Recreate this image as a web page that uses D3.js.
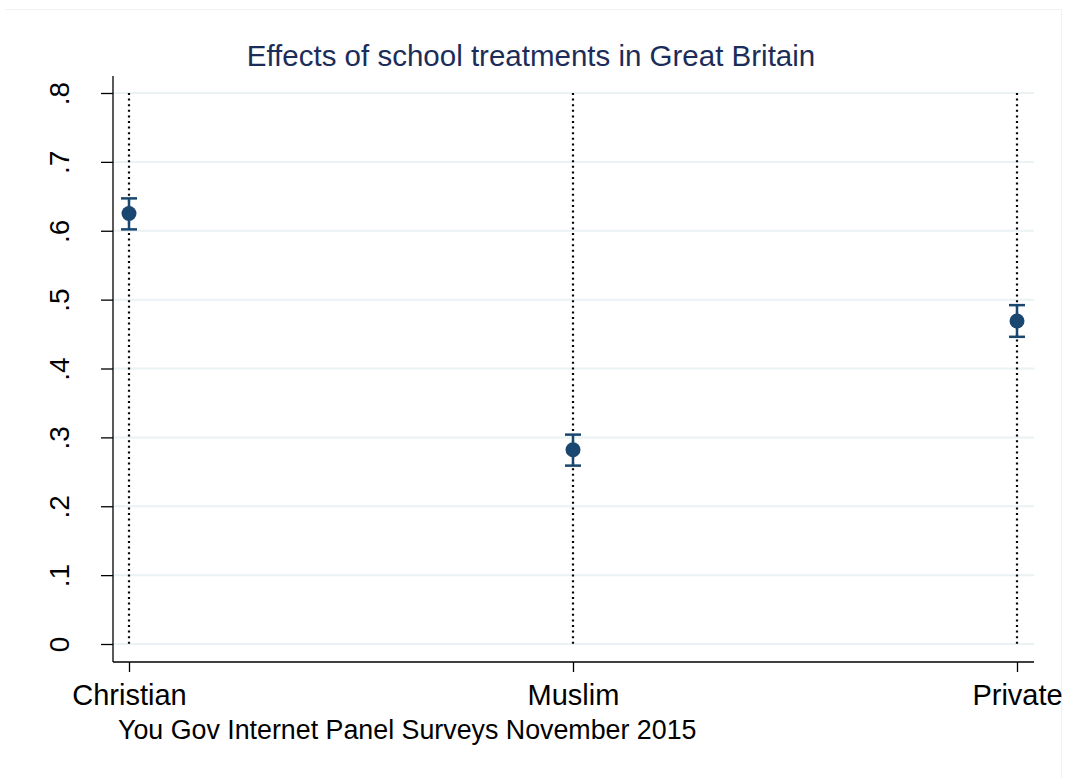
<!DOCTYPE html>
<html>
<head>
<meta charset="utf-8">
<script src="https://cdn.jsdelivr.net/npm/d3@7"></script>
<style>
  html, body { margin: 0; padding: 0; background: #fff; }
  svg { display: block; font-family: "Liberation Sans", Arial, sans-serif; }
</style>
</head>
<body>
<svg id="chart" width="1066" height="778"></svg>
<script>
// School treatment categories and their estimated effects with 95% CIs
const categories = ["Christian", "Muslim", "Private"];
const estimates  = [0.625, 0.282, 0.469];
const ciLower    = [0.602, 0.259, 0.446];
const ciUpper    = [0.647, 0.304, 0.492];
const yTicks     = [0, 0.1, 0.2, 0.3, 0.4, 0.5, 0.6, 0.7, 0.8];
const yTickLabels = ["0", ".1", ".2", ".3", ".4", ".5", ".6", ".7", ".8"];

const titleText = "Effects of school treatments in Great Britain";
const noteText  = "You Gov Internet Panel Surveys November 2015";

(function drawChart() {
  const svg = d3.select("#chart");

  // Plot region
  const plotLeft = 113, plotRight = 1034, plotTop = 76, plotBottom = 662;

  // Faint outer frame (top and right edges)
  svg.append("path")
    .attr("d", "M5,9.5H1061.5V778")
    .attr("fill", "none")
    .attr("stroke", "#eef2f3")
    .attr("stroke-width", 1.2);

  const x = d3.scalePoint().domain(categories).range([129, 1017]);
  const y = d3.scaleLinear().domain([0, 0.8]).range([644, 93]);

  // Horizontal gridlines
  svg.append("g").selectAll("line")
    .data(yTicks)
    .join("line")
    .attr("x1", plotLeft).attr("x2", plotRight)
    .attr("y1", d => y(d)).attr("y2", d => y(d))
    .attr("stroke", "#eaf2f3")
    .attr("stroke-width", 2);

  // Dotted reference lines at each category
  svg.append("g").selectAll("line")
    .data(categories)
    .join("line")
    .attr("x1", d => x(d)).attr("x2", d => x(d))
    .attr("y1", y(0.8)).attr("y2", y(0))
    .attr("stroke", "#000")
    .attr("stroke-width", 2.2)
    .attr("stroke-dasharray", "2,3.6");

  // Y axis
  const yAxis = svg.append("g")
    .attr("transform", `translate(${plotLeft},0)`)
    .call(d3.axisLeft(y).tickValues(yTicks)
          .tickFormat((d, i) => yTickLabels[i])
          .tickSize(12).tickSizeOuter(0));
  yAxis.select(".domain").attr("d", `M0,${plotTop}V${plotBottom}`).attr("stroke", "#000").attr("stroke-width", 1.3);
  yAxis.selectAll(".tick line").attr("stroke", "#000").attr("stroke-width", 1.3);
  yAxis.selectAll(".tick text")
    .attr("x", 0).attr("y", 0).attr("dy", null)
    .attr("transform", "translate(-44,0) rotate(-90)")
    .attr("text-anchor", "middle")
    .attr("font-size", 28)
    .attr("fill", "#000");

  // X axis
  const xAxis = svg.append("g")
    .attr("transform", `translate(0,${plotBottom})`)
    .call(d3.axisBottom(x).tickSize(10).tickSizeOuter(0).tickPadding(10));
  xAxis.select(".domain").attr("d", `M${plotLeft},0H${plotRight}`).attr("stroke", "#000").attr("stroke-width", 1.3);
  xAxis.selectAll(".tick line").attr("stroke", "#000").attr("stroke-width", 1.3);
  xAxis.selectAll(".tick text")
    .attr("y", 43).attr("dy", null)
    .attr("font-size", 29)
    .attr("fill", "#000");

  // Confidence intervals
  const navy = "#1a476f";
  const ci = svg.append("g");
  categories.forEach((c, i) => {
    const cx = x(c);
    ci.append("line")
      .attr("x1", cx).attr("x2", cx)
      .attr("y1", y(ciLower[i])).attr("y2", y(ciUpper[i]))
      .attr("stroke", navy).attr("stroke-width", 2.5);
    [ciLower[i], ciUpper[i]].forEach(v => {
      ci.append("line")
        .attr("x1", cx - 8).attr("x2", cx + 8)
        .attr("y1", y(v)).attr("y2", y(v))
        .attr("stroke", navy).attr("stroke-width", 2.5);
    });
  });

  // Point estimates
  svg.append("g").selectAll("circle")
    .data(categories)
    .join("circle")
    .attr("cx", d => x(d))
    .attr("cy", (d, i) => y(estimates[i]))
    .attr("r", 7.5)
    .attr("fill", navy);

  // Title
  svg.append("text")
    .attr("x", 531).attr("y", 66)
    .attr("text-anchor", "middle")
    .attr("font-size", 29.5)
    .attr("fill", "#1c2d5a")
    .text(titleText);

  // Source note
  svg.append("text")
    .attr("x", 118).attr("y", 739)
    .attr("font-size", 26.8)
    .attr("fill", "#000")
    .text(noteText);
})();
</script>
</body>
</html>
